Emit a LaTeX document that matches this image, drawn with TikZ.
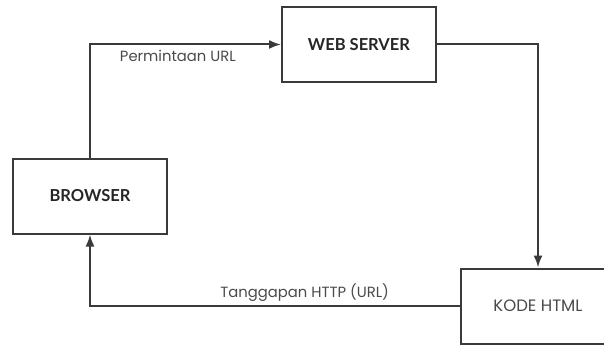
\documentclass[tikz,border=0pt]{standalone}
\usepackage{fontspec}
\setmainfont{Poppins}
\newfontfamily\boldlabel{Lato}
\usetikzlibrary{arrows.meta, positioning}
\definecolor{linegray}{HTML}{3A3A3A}
\definecolor{textgray}{HTML}{4A4A4A}

\begin{document}
\begin{tikzpicture}[
            x=1pt, y=-1pt,
            >=Latex,
            % Kotak proses
            block/.style={
                draw=linegray,
                fill=white,
                rectangle,
                minimum width=154pt,
                minimum height=75pt,
                line width=2pt,
                align=center
            },
            % Judul kotak tebal
            title/.style={
                font=\boldlabel\bfseries\fontsize{16.5}{19}\selectfont,
                text=black!85
            },
            % Garis/panah aliran
            signal/.style={
                draw=linegray,
                ->,
                line width=2pt
            },
            % Teks keterangan panah
            caption/.style={
                font=\fontsize{14.8}{17}\selectfont,
                text=textgray
            }
        ]

            % Batas gambar
            \useasboundingbox (0,0) rectangle (604,345);

            % Kotak-kotak
            \node [block, title] (server) at (359,44.5) {WEB SERVER};
            \node [block, title] (browser) at (90,196) {BROWSER};
            \node [block, caption, font=\fontsize{16.5}{19}\selectfont] (kode) at (538,306) {KODE HTML};

            % Panah dan keterangan
            \draw [signal] (browser.north) |- node[caption, pos=0.73, below=1pt] {Permintaan URL} (server.west);
            \draw [signal] (server.east) -| (kode.north);
            \draw [signal] (kode.west) -| node[caption, pos=0.21, above] {Tanggapan HTTP (URL)} (browser.south);

        \end{tikzpicture}
\end{document}
